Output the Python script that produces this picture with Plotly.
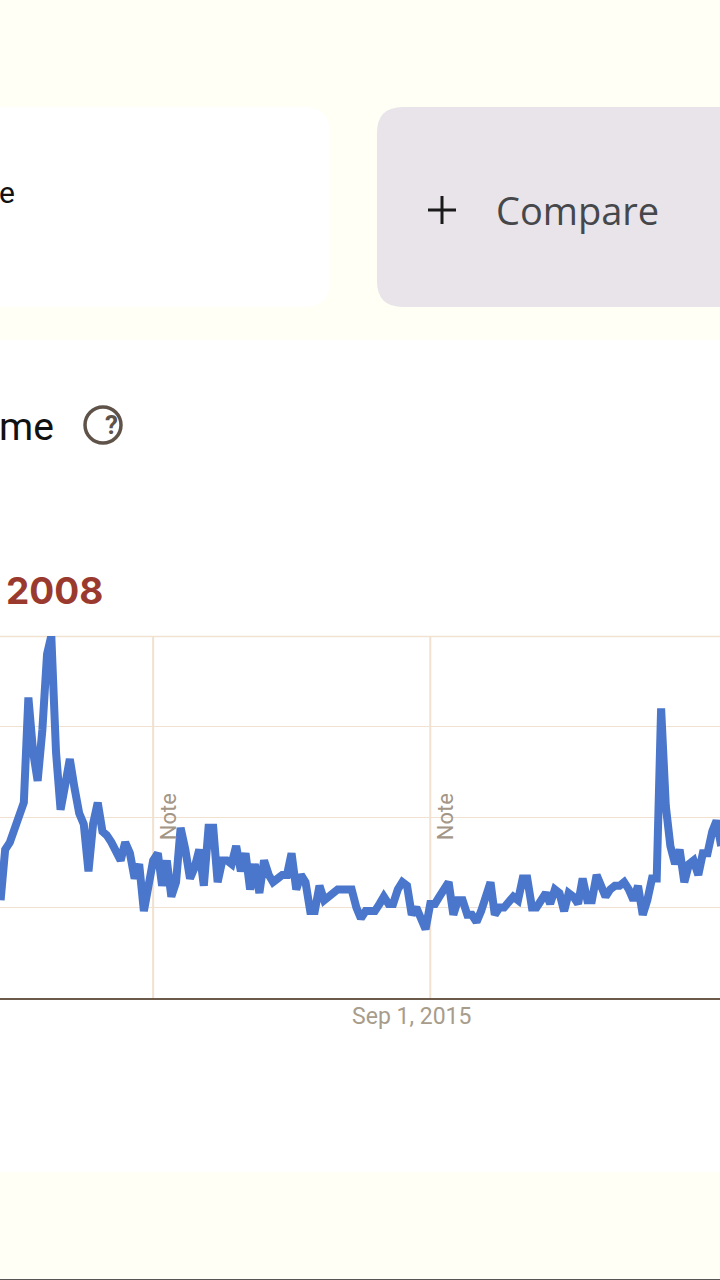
import pandas as pd
import plotly.graph_objects as go

dates = pd.date_range("2008-04-01", periods=157, freq="MS")
interest = [
    27, 41, 43, 47, 50, 54, 83, 68, 60, 74, 95, 100, 68, 52, 59, 66, 58, 51, 48, 35, 48, 54, 46, 45, 43, 41, 38, 43, 40, 33, 37, 24, 31,
    38, 40, 31, 38, 28, 32, 47, 41, 33, 36, 41, 31, 47, 47, 32, 38, 38, 37, 42,
    35, 40, 30, 37, 29, 38, 34, 32, 33, 34, 34, 40, 30, 34, 32, 24, 24, 31, 27, 28, 29, 30, 30, 30, 30, 25, 22, 24, 24, 24, 26, 28, 26, 26, 30, 32, 31, 23, 25, 22, 19,
    26, 26, 28, 30, 32, 23, 27, 27, 23, 23, 21,
    24, 28, 32, 23, 25, 25, 27, 28, 27, 33, 33, 25, 25, 27, 29, 26, 30, 29, 24, 29, 28, 26, 33, 27, 27, 34, 31, 28, 30, 31, 31, 32, 30, 27, 31, 23, 27, 33, 33, 80, 53, 42, 37, 41, 32, 37, 38, 34, 40, 40, 46, 49, 42,
]
note_dates = ["2011-01-01", "2016-01-01"]
y_ticks = [0, 25, 50, 75, 100]
x_tick_dates = ["2015-09-01"]
x_tick_labels = ["Sep 1, 2015"]

W, H = 720, 1280
CREAM = "#FFFFF5"
GRID = "#F1E1D0"
TICK_TEXT = "#A89C8B"


def px(x):
    return x / W


def py(y):
    return 1 - y / H


fig = go.Figure()
fig.add_trace(go.Scatter(x=dates, y=interest, mode="lines", showlegend=False,
                         line=dict(color="#4A76CB", width=8, shape="linear"), cliponaxis=True))

shapes = [
    dict(type="rect", xref="paper", yref="paper", x0=0, x1=1, y0=py(340), y1=1, fillcolor=CREAM, line_width=0, layer="below"),
    dict(type="rect", xref="paper", yref="paper", x0=0, x1=1, y0=0, y1=py(1172), fillcolor=CREAM, line_width=0, layer="below"),
    dict(type="path", xref="paper", yref="paper", layer="below", fillcolor="#FFFFFF", line_width=0,
         path=f"M {px(-30)},{py(107)} L {px(304)},{py(107)} Q {px(330)},{py(107)} {px(330)},{py(133)} "
              f"L {px(330)},{py(281)} Q {px(330)},{py(307)} {px(304)},{py(307)} L {px(-30)},{py(307)} Z"),
    dict(type="path", xref="paper", yref="paper", layer="below", fillcolor="#E8E4E9", line_width=0,
         path=f"M {px(750)},{py(107)} L {px(403)},{py(107)} Q {px(377)},{py(107)} {px(377)},{py(133)} "
              f"L {px(377)},{py(281)} Q {px(377)},{py(307)} {px(403)},{py(307)} L {px(750)},{py(307)} Z"),
    dict(type="line", xref="paper", yref="paper", x0=0, x1=1, y0=py(1279.5), y1=py(1279.5), line=dict(color="#555555", width=1)),
    dict(type="line", xref="paper", yref="paper", x0=px(428), x1=px(456), y0=py(210), y1=py(210), line=dict(color="#1A1A1A", width=3)),
    dict(type="line", xref="paper", yref="paper", x0=px(442), x1=px(442), y0=py(196), y1=py(224), line=dict(color="#1A1A1A", width=3)),
    dict(type="circle", xref="paper", yref="paper", x0=px(85), x1=px(121), y0=py(407), y1=py(443), line=dict(color="#5F5349", width=3.5)),
    dict(type="line", xref="paper", yref="paper", x0=0, x1=1, y0=py(636.5), y1=py(636.5), line=dict(color=GRID, width=1.3), layer="below"),
]
for d in note_dates:
    shapes.append(dict(type="line", xref="x", yref="paper", x0=d, x1=d, y0=py(998), y1=py(636),
                       line=dict(color=GRID, width=2), layer="below"))
fig.update_layout(shapes=shapes)

annotations = [
    dict(text="e", x=px(-3), y=py(192), xanchor="left", font=dict(size=30, color="#111111", family="Roboto")),
    dict(text="Compare", x=px(494), y=py(210), xanchor="left", font=dict(size=38, color="#46474B", family="Open Sans")),
    dict(text="me", x=px(-3), y=py(427), xanchor="left", font=dict(size=39, color="#111111", family="Roboto")),
    dict(text="<b>?</b>", x=px(103), y=py(425), font=dict(size=26, color="#5F5349", family="Roboto")),
    dict(text="<b>2008</b>", x=px(4), y=py(590), xanchor="left", font=dict(size=37, color="#9A3A2E", family="Inter")),
]
for d in note_dates:
    annotations.append(dict(text="Note", xref="x", yref="paper", x=d, y=py(817), xshift=15, textangle=-90,
                            showarrow=False, font=dict(size=22, color="#A39686", family="Roboto")))
for a in annotations:
    a.setdefault("xref", "paper")
    a.setdefault("yref", "paper")
    a.setdefault("showarrow", False)
    a.setdefault("yanchor", "middle")

fig.update_layout(
    annotations=annotations,
    width=W, height=H,
    margin=dict(l=0, r=0, t=0, b=0),
    paper_bgcolor="#FFFFFF",
    plot_bgcolor="rgba(0,0,0,0)",
    xaxis=dict(range=["2008-03-28", "2021-03-24"], domain=[0, 1], type="date",
               tickvals=x_tick_dates, ticktext=x_tick_labels, showgrid=False, ticks="",
               showline=True, linecolor="#6B5A4A", linewidth=1.5, zeroline=False, ticklabelstandoff=-3,
               tickfont=dict(size=23, color=TICK_TEXT, family="Roboto")),
    yaxis=dict(range=[0, 100], domain=[py(998), py(636)], tickvals=y_ticks, showticklabels=False,
               showgrid=True, gridcolor=GRID, gridwidth=1.3, zeroline=False, showline=False, ticks=""),
)
fig.write_html("out.html", post_script="document.body.style.margin='0';document.body.style.overflow='hidden';",
               config={"displayModeBar": False})
